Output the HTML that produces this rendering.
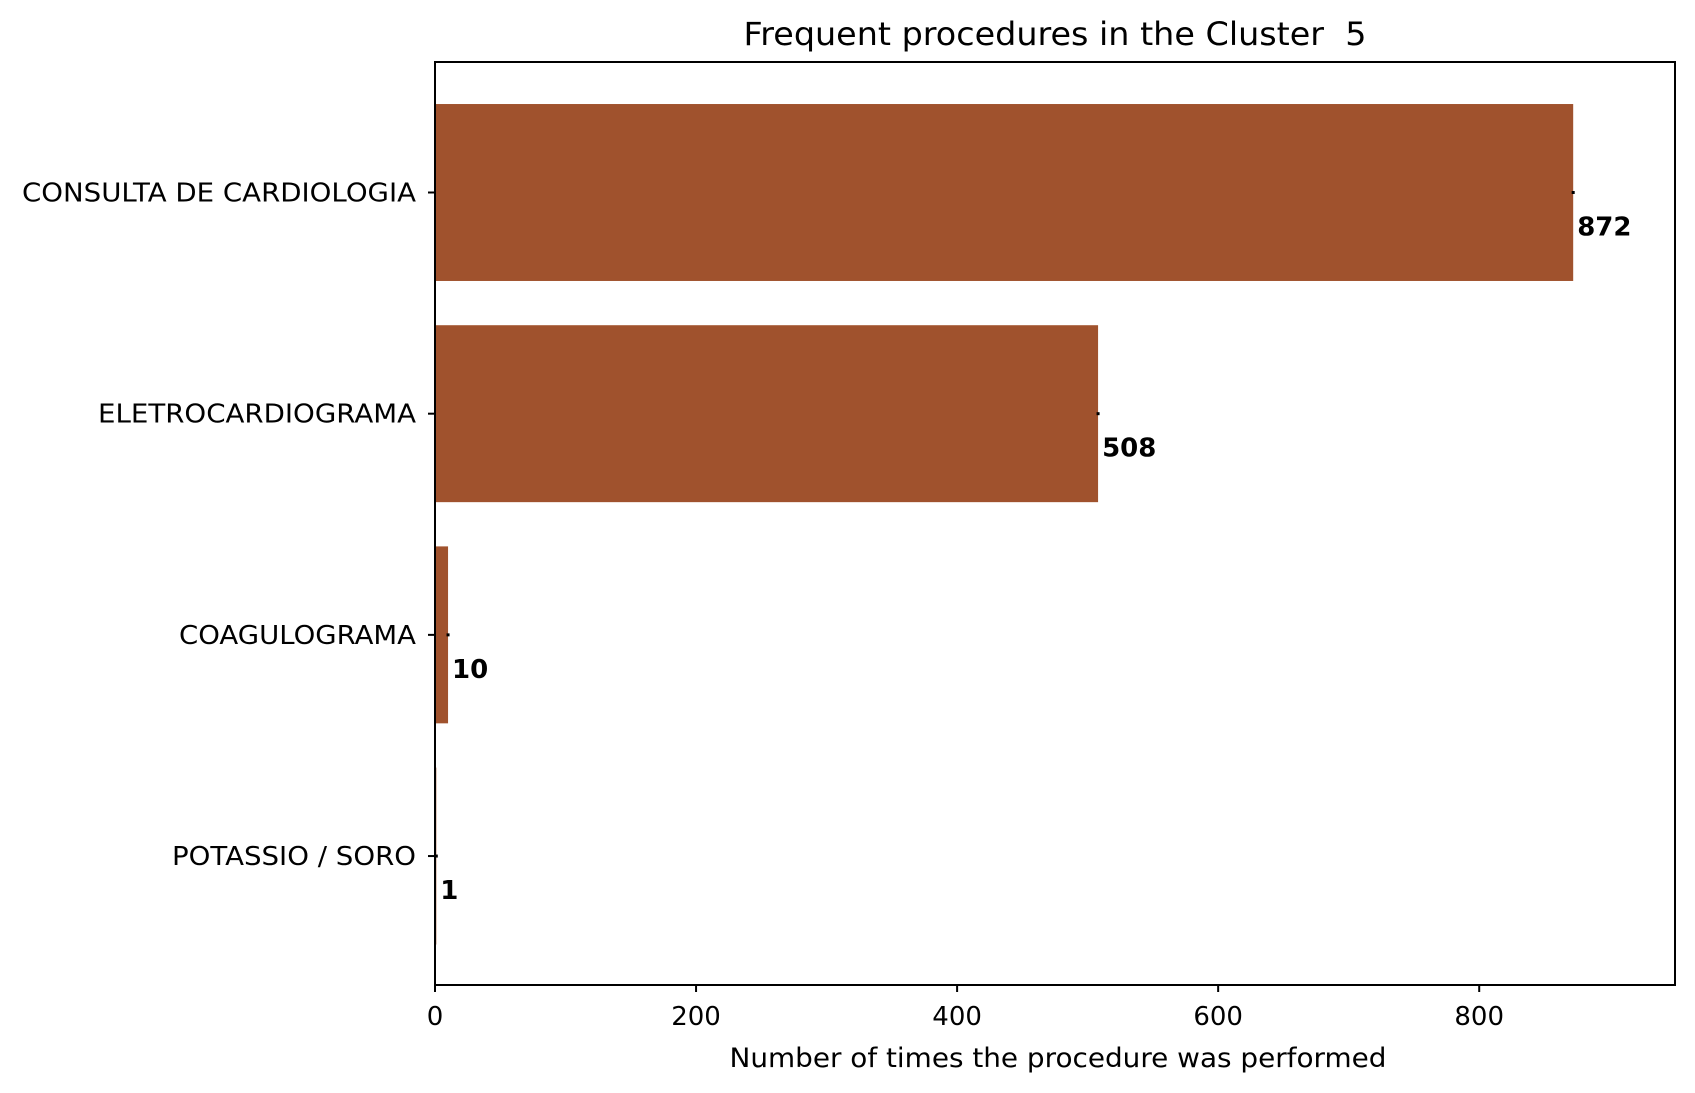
<!DOCTYPE html>
<html><head><meta charset="utf-8"><style>
html,body{margin:0;padding:0;background:#fff}
svg{display:block}
text{font-family:"DejaVu Sans","Liberation Sans",sans-serif;fill:#000}
</style></head><body>
<svg id="chart" width="1695" height="1093" viewBox="0 0 1695 1093" xmlns="http://www.w3.org/2000/svg">
<rect width="1695" height="1093" fill="#fff"/>
<text x="1055" y="45" font-size="32" text-anchor="middle" textLength="623" lengthAdjust="spacingAndGlyphs">Frequent procedures in the Cluster&#160; 5</text>
<g id="bars"></g>
<g id="axes"></g>
<text x="1058" y="1067" font-size="27" text-anchor="middle" textLength="657" lengthAdjust="spacingAndGlyphs">Number of times the procedure was performed</text>
</svg>
<script>
const categories = ["CONSULTA DE CARDIOLOGIA","ELETROCARDIOGRAMA","COAGULOGRAMA","POTASSIO / SORO"];
const values = [872, 508, 10, 1];
const xTicks = [0, 200, 400, 600, 800];
const labelWidths = [394, 318, 237, 244];

const L=435,R=1675,T=62,B=985;
const xMax=950, yMin=-0.59, yMax=3.583;
const NS="http://www.w3.org/2000/svg";
function x(v){return L+v/xMax*(R-L);}
function y(i){return T+(i-yMin)/(yMax-yMin)*(B-T);}
const bw=(y(1)-y(0))*0.8;
const bars=document.getElementById('bars');
const axes=document.getElementById('axes');
function mk(tag,attrs,parent){const e=document.createElementNS(NS,tag);for(const k in attrs)e.setAttribute(k,attrs[k]);parent.appendChild(e);return e;}

values.forEach((v,i)=>{
  const r=mk('rect',{x:L,y:y(i)-bw/2,width:x(v)-L,height:bw,fill:'#a0522d'},bars);
  
  
  const d=mk('rect',{x:x(v)-1.5,y:y(i)-1.5,width:3,height:3,fill:'#000'},bars);
  
  
  const t=mk('text',{x:x(v)+4,y:y(i)+43,'font-size':26,'font-weight':'bold'},bars);
  t.textContent=String(v);
  
  
  const tk=mk('line',{x1:L-7,x2:L,y1:y(i),y2:y(i),stroke:'#000','stroke-width':2},axes);
  
  
  const lb=mk('text',{x:L-19,y:y(i)+9,'font-size':26,'text-anchor':'end',textLength:labelWidths[i],lengthAdjust:'spacingAndGlyphs'},axes);
  lb.textContent=categories[i];
  
  
});
xTicks.forEach(v=>{
  const tk=mk('line',{x1:x(v),x2:x(v),y1:B,y2:B+7,stroke:'#000','stroke-width':2},axes);
  
  
  const lb=mk('text',{x:x(v),y:1025,'font-size':26,'text-anchor':'middle'},axes);
  lb.textContent=String(v);
  
  
});
const frame=mk('rect',{x:L,y:T,width:R-L,height:B-T,fill:'none',stroke:'#000','stroke-width':2},axes);


</script>
</body></html>
